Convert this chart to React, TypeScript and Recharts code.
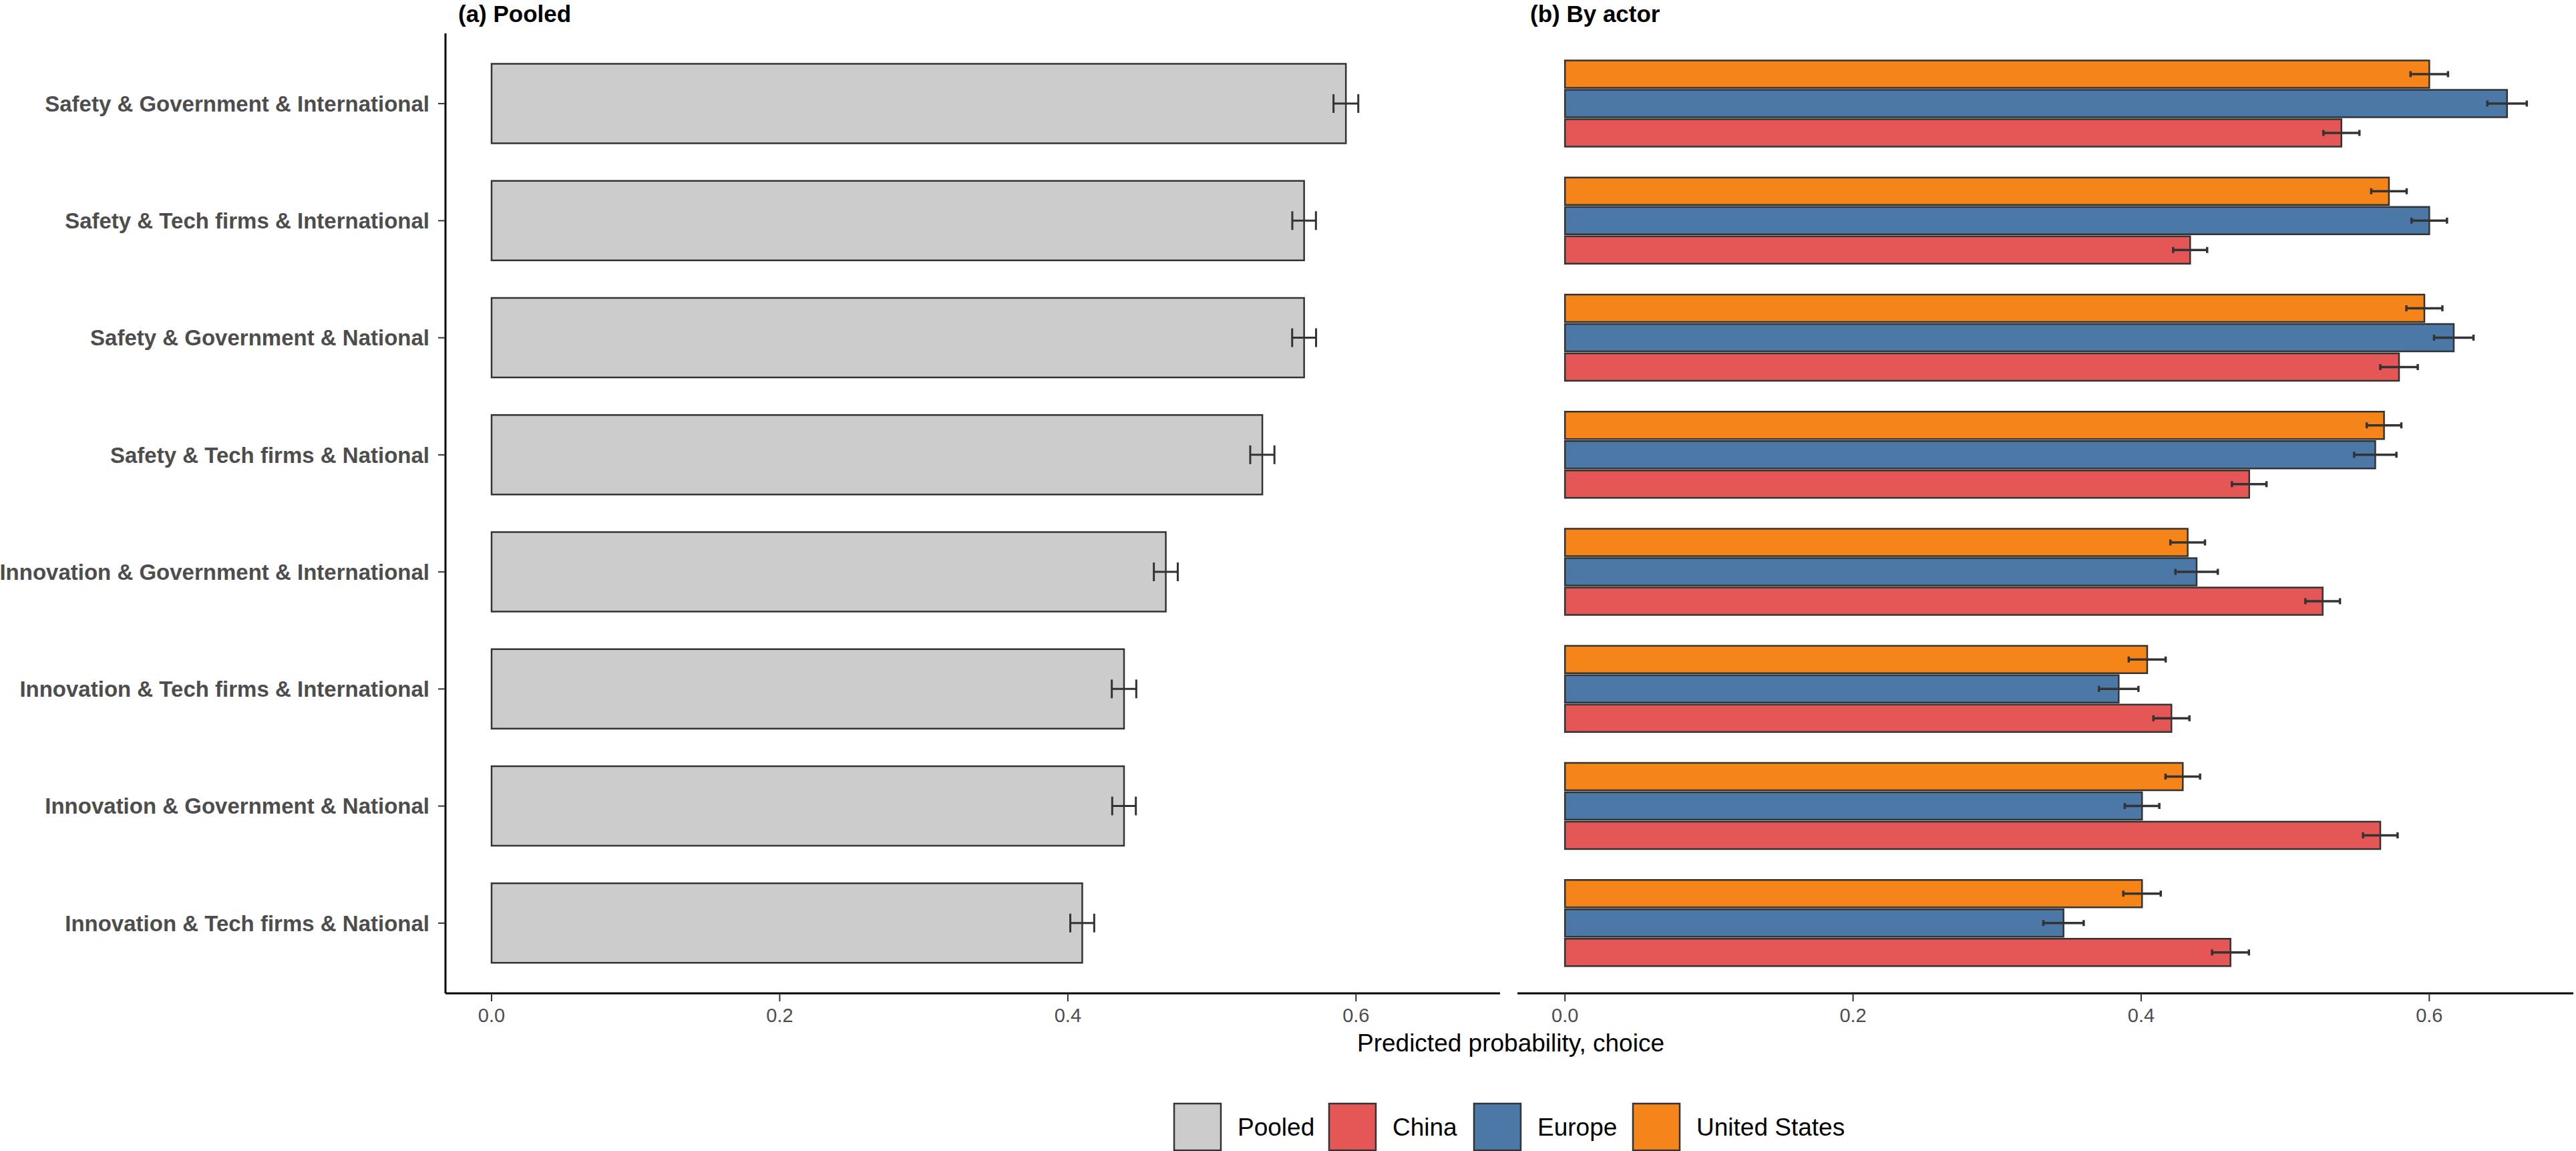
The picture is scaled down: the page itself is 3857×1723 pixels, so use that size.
import React from 'react';
import { BarChart, Bar, XAxis, YAxis, ErrorBar } from 'recharts';

// profiles, top to bottom
const categories = [
  'Safety & Government & International',
  'Safety & Tech firms & International',
  'Safety & Government & National',
  'Safety & Tech firms & National',
  'Innovation & Government & International',
  'Innovation & Tech firms & International',
  'Innovation & Government & National',
  'Innovation & Tech firms & National',
];

const pooled = [0.593, 0.564, 0.564, 0.535, 0.468, 0.439, 0.439, 0.41];
const pooledErr = [0.0086, 0.0082, 0.0083, 0.0084, 0.0083, 0.0085, 0.0082, 0.0083];

const china = [0.539, 0.434, 0.579, 0.475, 0.526, 0.421, 0.566, 0.462];
const chinaErr = [0.0125, 0.0118, 0.013, 0.012, 0.012, 0.0125, 0.012, 0.0128];

const europe = [0.654, 0.6, 0.617, 0.5625, 0.4385, 0.3844, 0.4006, 0.3461];
const europeErr = [0.0137, 0.0123, 0.0137, 0.0147, 0.0147, 0.0137, 0.012, 0.014];

const us = [0.6, 0.572, 0.5966, 0.5686, 0.4323, 0.4042, 0.4289, 0.4006];
const usErr = [0.013, 0.0123, 0.0125, 0.012, 0.012, 0.0128, 0.012, 0.013];

const xTicks = [0, 0.2, 0.4, 0.6];
const legendLabels = ['Pooled', 'China', 'Europe', 'United States'];

const rows = categories.map((name, i) => ({
  name,
  pooled: pooled[i],
  pooledErr: pooledErr[i],
  china: china[i],
  chinaErr: chinaErr[i],
  europe: europe[i],
  europeErr: europeErr[i],
  us: us[i],
  usErr: usErr[i],
}));

const FONT = '"Liberation Sans", Arial, Helvetica, sans-serif';
const EDGE = '#333333';
const legendColors = ['#CCCCCC', '#E45756', '#4C78A8', '#F58518'];
const legendX = [1758, 1990, 2207, 2445];

const CHART_H = 1557;
const X_AXIS_H = 70;
const PLOT_TOP = 50;
const BAND_PAD = 17.5;

const xTickStyle = { fontSize: 29, fill: '#4D4D4D', fontFamily: FONT };
const fmt = (v: number) => v.toFixed(1);

function XAxisCommon(domain: [number, number]) {
  return (
    <XAxis
      type="number"
      domain={domain}
      allowDataOverflow
      ticks={xTicks}
      tickFormatter={fmt}
      height={X_AXIS_H}
      tickSize={12}
      tickMargin={10}
      tick={xTickStyle}
      tickLine={{ stroke: EDGE, strokeWidth: 2 }}
      axisLine={{ stroke: '#000', strokeWidth: 3 }}
    />
  );
}

export default function App() {
  return (
    <div style={{ position: 'absolute', left: 0, top: 0, width: 3857, height: 1723, background: '#fff' }}>
      {/* (a) pooled */}
      <div style={{ position: 'absolute', left: 0, top: 0 }}>
        <BarChart
          width={2246}
          height={CHART_H}
          data={rows}
          layout="vertical"
          margin={{ top: PLOT_TOP, right: 0, bottom: 0, left: 0 }}
        >
          {XAxisCommon([-0.032, 0.7])}
          <YAxis
            type="category"
            dataKey="name"
            width={667}
            padding={{ top: BAND_PAD, bottom: BAND_PAD }}
            tickSize={11}
            tickMargin={13}
            tick={{ fontSize: 33, fontWeight: 700, fill: '#4D4D4D', fontFamily: FONT }}
            tickLine={{ stroke: EDGE, strokeWidth: 2 }}
            axisLine={{ stroke: '#000', strokeWidth: 3 }}
          />
          <Bar dataKey="pooled" fill={legendColors[0]} stroke={EDGE} strokeWidth={2.5} barSize={119} isAnimationActive={false}>
            <ErrorBar dataKey="pooledErr" direction="x" width={14} stroke={EDGE} strokeWidth={3} />
          </Bar>
        </BarChart>
      </div>

      {/* (b) by actor */}
      <div style={{ position: 'absolute', left: 2272, top: 0 }}>
        <BarChart
          width={1581}
          height={CHART_H}
          data={rows}
          layout="vertical"
          barGap={3}
          margin={{ top: PLOT_TOP, right: 0, bottom: 0, left: 0 }}
        >
          {XAxisCommon([-0.033, 0.7])}
          <YAxis type="category" dataKey="name" hide padding={{ top: BAND_PAD, bottom: BAND_PAD }} />
          <Bar dataKey="us" fill={legendColors[3]} stroke={EDGE} strokeWidth={2.5} barSize={41} isAnimationActive={false}>
            <ErrorBar dataKey="usErr" direction="x" width={4.5} stroke={EDGE} strokeWidth={3.5} />
          </Bar>
          <Bar dataKey="europe" fill={legendColors[2]} stroke={EDGE} strokeWidth={2.5} barSize={41} isAnimationActive={false}>
            <ErrorBar dataKey="europeErr" direction="x" width={4.5} stroke={EDGE} strokeWidth={3.5} />
          </Bar>
          <Bar dataKey="china" fill={legendColors[1]} stroke={EDGE} strokeWidth={2.5} barSize={41} isAnimationActive={false}>
            <ErrorBar dataKey="chinaErr" direction="x" width={4.5} stroke={EDGE} strokeWidth={3.5} />
          </Bar>
        </BarChart>
      </div>

      {/* titles, shared axis title, legend */}
      <svg
        width={3857}
        height={1723}
        style={{ position: 'absolute', left: 0, top: 0, pointerEvents: 'none' }}
        fontFamily={FONT}
      >
        <text x={686} y={33} fontSize={35} fontWeight={700} fill="#000">(a) Pooled</text>
        <text x={2291} y={33} fontSize={35} fontWeight={700} fill="#000">(b) By actor</text>
        <text x={2262} y={1574} fontSize={37} textAnchor="middle" fill="#000">
          Predicted probability, choice
        </text>
        {legendLabels.map((label, i) => (
          <g key={label}>
            <rect x={legendX[i]} y={1652} width={70} height={70} fill={legendColors[i]} stroke={EDGE} strokeWidth={2.5} />
            <text x={legendX[i] + 95} y={1687} fontSize={37} dominantBaseline="central" fill="#000">
              {label}
            </text>
          </g>
        ))}
      </svg>
    </div>
  );
}
